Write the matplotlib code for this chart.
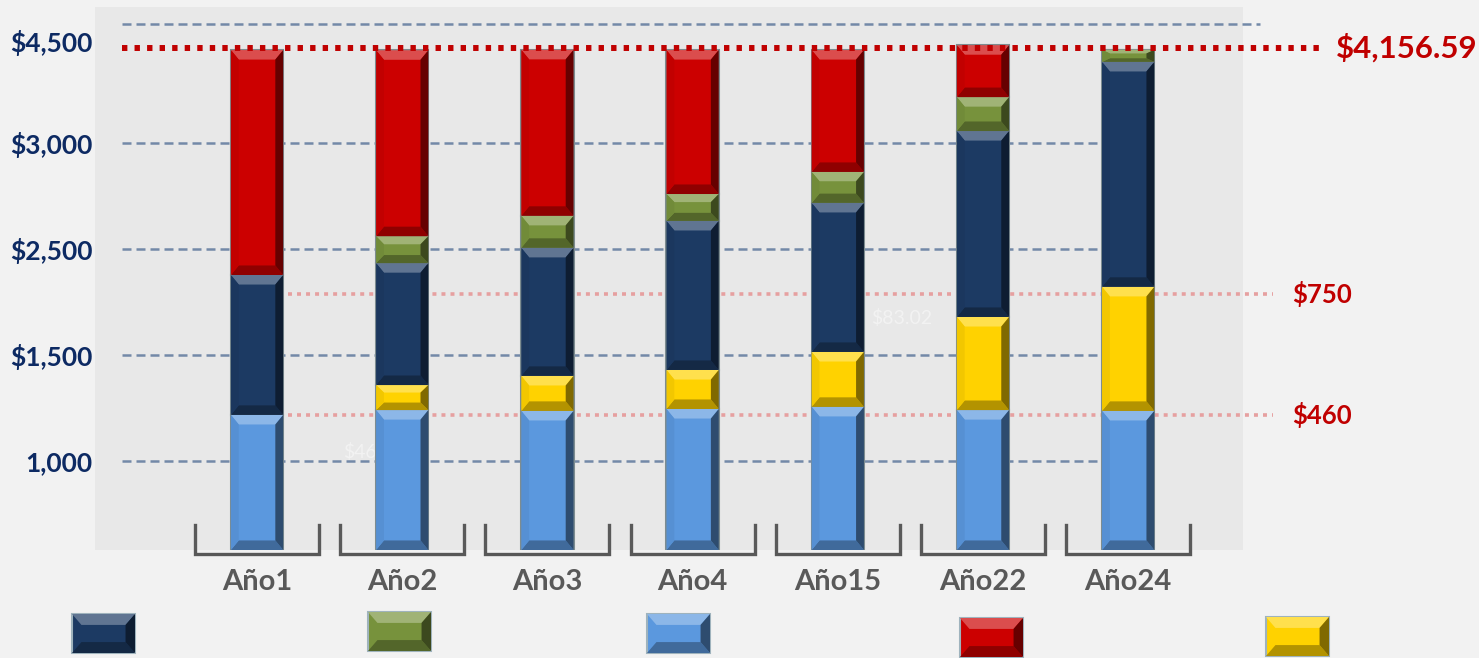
import numpy as np
import matplotlib
matplotlib.use("Agg")
import matplotlib.pyplot as plt
from matplotlib.patches import Polygon, Rectangle
from matplotlib.colors import to_rgb

plt.rcParams['font.family'] = ['Lato', 'DejaVu Sans']

# data (chart units)
categories = ['Año1', 'Año2', 'Año3', 'Año4', 'Año15', 'Año22', 'Año24']
light_blue = [637, 660, 656, 665, 675, 660, 656]
yellow = [0, 118, 165, 184, 259, 439, 585]
navy = [660, 575, 604, 703, 703, 877, 1061]
green = [0, 127, 151, 127, 146, 160, 57]
red = [1061, 877, 783, 679, 575, 245, 0]

grid_vals = [420, 920, 1420, 1920]
top_grid = 2481
tick_vals = [420, 920, 1420, 1920, 2401]
tick_labels = ['1,000', '$1,500', '$2,500', '$3,000', '$4,500']

ref_total = 2368
ref_total_label = '$4,156.59'
ref_lines = [1208, 637]
ref_labels = ['$750', '$460']

colors = ['#5b98de', '#ffd200', '#1c3a63', '#77923c', '#cc0000']
series = [light_blue, yellow, navy, green, red]


def shade(c, f):
    r, g, b = to_rgb(c)
    if f > 0:
        return (r + (1 - r) * f, g + (1 - g) * f, b + (1 - b) * f)
    return (r * (1 + f), g * (1 + f), b * (1 + f))


def bevel(ax, rect, color):
    x, y, w, h = rect.get_x(), rect.get_y(), rect.get_width(), rect.get_height()
    if h <= 0:
        return
    bx = w * 0.15
    by = min(h * 0.3, 45)
    pts_top = [(x, y + h), (x + w, y + h), (x + w - bx, y + h - by), (x + bx, y + h - by)]
    pts_bot = [(x, y), (x + w, y), (x + w - bx, y + by), (x + bx, y + by)]
    pts_right = [(x + w, y), (x + w, y + h), (x + w - bx, y + h - by), (x + w - bx, y + by)]
    pts_left = [(x, y), (x, y + h), (x + bx, y + h - by), (x + bx, y + by)]
    ax.add_patch(Polygon(pts_top, color=shade(color, 0.3), lw=0, zorder=4))
    ax.add_patch(Polygon(pts_bot, color=shade(color, -0.3), lw=0, zorder=4))
    ax.add_patch(Polygon(pts_right, color=shade(color, -0.5), lw=0, zorder=4))
    ax.add_patch(Polygon(pts_left, color=shade(color, -0.05), lw=0, zorder=4))


fig = plt.figure(figsize=(14.79, 6.58), dpi=100)
fig.patch.set_facecolor('#f2f2f2')
ax = fig.add_axes([95 / 1479, 108 / 658, 1148 / 1479, 543 / 658])
ax.set_facecolor('#e8e8e8')

x = np.arange(len(categories))
width = 0.36
bottom = np.zeros(len(categories))
for vals, col in zip(series, colors):
    bars = ax.bar(x, vals, width, bottom=bottom, color=col,
                  edgecolor='#7d8c90', linewidth=1.5, zorder=3)
    for rect in bars:
        bevel(ax, rect, col)
    bottom += np.array(vals)

ax.set_xlim(-1.116, 6.791)
ax.set_ylim(0, 2561)

# gridlines
for g in grid_vals:
    ax.plot([-0.93, 5.82], [g, g], color='#7389a8', lw=1.8,
            linestyle=(0, (3.6, 2)), zorder=1)
ax.plot([-0.93, 6.91], [top_grid, top_grid], color='#7389a8', lw=1.8,
        linestyle=(0, (3.6, 2)), zorder=1, clip_on=False)

# reference lines
ax.plot([-0.93, 7.34], [ref_total, ref_total], color='#c00000', lw=4.3,
        linestyle=(0, (0.9, 1.2)), dash_capstyle='butt', zorder=5, clip_on=False)
ax.text(7.43, ref_total, ref_total_label, color='#c00000', fontsize=22.5,
        fontweight='bold', va='center', ha='left', clip_on=False)
for v, lab in zip(ref_lines, ref_labels):
    ax.plot([0.21, 7.0], [v, v], color='#e6a0a0', lw=2.6,
            linestyle=(0, (1.1, 1.4)), dash_capstyle='butt', zorder=2, clip_on=False)
    ax.text(7.13, v, lab, color='#c00000', fontsize=18.5, fontweight='bold',
            va='center', ha='left', clip_on=False)

# faint data labels
ax.text(4.44, 1094, '$83.02', color='white', alpha=0.45, fontsize=14,
        ha='center', va='center', zorder=2)
ax.text(0.59, 462, '$460', color='white', alpha=0.45, fontsize=14,
        ha='left', va='center', zorder=2)

# category brackets
for xi in x:
    ax.plot([xi - 0.427, xi - 0.427, xi + 0.427, xi + 0.427],
            [118, -19, -19, 118], color='#595959', lw=2.4, zorder=2,
            clip_on=False, solid_joinstyle='miter')

ax.set_yticks(tick_vals)
ax.set_yticklabels(tick_labels, fontsize=19, fontweight='bold', color='#0d2a63')
ax.set_xticks(x)
ax.set_xticklabels(categories, fontsize=21, fontweight='bold', color='#595959')
ax.tick_params(axis='y', length=0, pad=2)
ax.tick_params(axis='x', length=0, pad=14)
for s in ax.spines.values():
    s.set_visible(False)

# legend swatches (no text)
swatches = [(72, 614, '#1c3a63'), (368, 612, '#77923c'), (647, 614, '#5b98de'),
            (960, 618, '#cc0000'), (1266, 617, '#ffd200')]
for px, py, col in swatches:
    fx, fy = px / 1479, 1 - (py + 39) / 658
    fw, fh = 63 / 1479, 39 / 658
    fig.add_artist(Rectangle((fx, fy), fw, fh, transform=fig.transFigure,
                             facecolor=col, edgecolor='#9fb3bd', lw=1.5))
    bxw, byh = fw * 0.15, fh * 0.28
    fig.add_artist(Polygon([(fx, fy + fh), (fx + fw, fy + fh), (fx + fw - bxw, fy + fh - byh),
                            (fx + bxw, fy + fh - byh)], transform=fig.transFigure,
                           color=shade(col, 0.3), lw=0))
    fig.add_artist(Polygon([(fx, fy), (fx + fw, fy), (fx + fw - bxw, fy + byh),
                            (fx + bxw, fy + byh)], transform=fig.transFigure,
                           color=shade(col, -0.3), lw=0))
    fig.add_artist(Polygon([(fx + fw, fy), (fx + fw, fy + fh), (fx + fw - bxw, fy + fh - byh),
                            (fx + fw - bxw, fy + byh)], transform=fig.transFigure,
                           color=shade(col, -0.5), lw=0))

fig.savefig('out.png', dpi=100, facecolor=fig.get_facecolor())
